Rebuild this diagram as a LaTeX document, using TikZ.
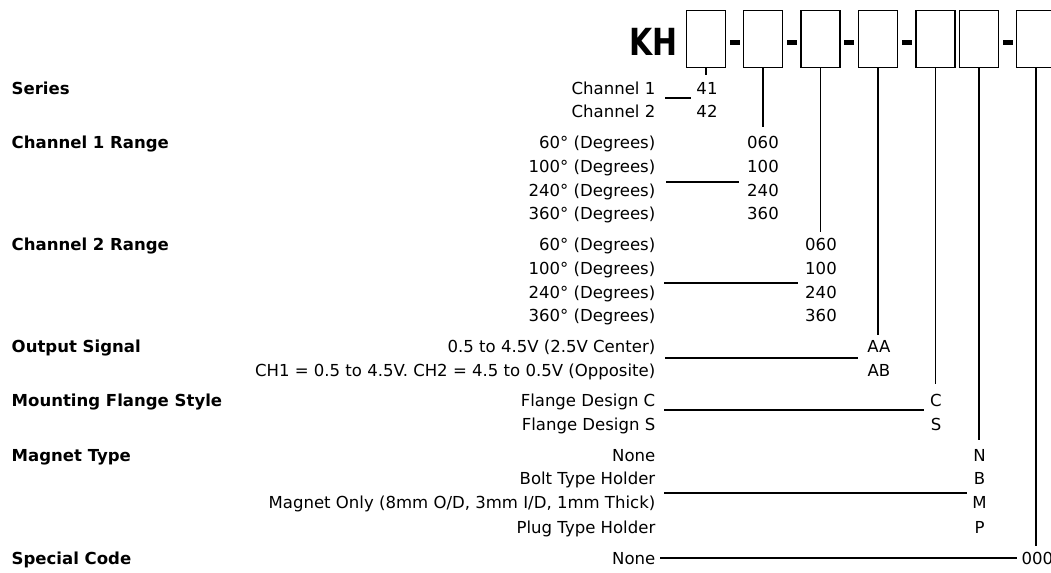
\documentclass[tikz,border=0pt]{standalone}
\usepackage{fontspec}
\setmainfont{DejaVu Sans}
\begin{document}
\begin{tikzpicture}[x=0.75pt, y=-0.75pt,
  every node/.style={font=\fontsize{12.4}{14}\selectfont},
  slot/.style={draw, line width=1.4pt, minimum width=29.25pt, minimum height=42.75pt, inner sep=0pt},
  head/.style={anchor=base west, font=\fontsize{12.4}{14}\selectfont\bfseries},
  desc/.style={anchor=base east},
  code/.style={anchor=base},
  lead/.style={line width=1pt}]
  \useasboundingbox (0,0) rectangle (1051,572);
  \clip (0,0) rectangle (1051,572);
  % part number boxes
  \node[anchor=east, inner sep=0pt, font=\fontsize{28}{28}\selectfont\bfseries] (kh) at (678,42) {\scalebox{0.8}[1]{KH}};
  \node[slot] (b1) at (706,39) {};
  \node[slot] (b2) at (763,39) {};
  \node[slot] (b3) at (820.5,39) {};
  \node[slot] (b4) at (878,39) {};
  \node[slot] (b5) at (935.5,39) {};
  \node[slot] (b6) at (979,39) {};
  \node[slot] (b7) at (1036,39) {};
  \fill (730,40) rectangle (740,45);
  \fill (787,40) rectangle (797,45);
  \fill (844,40) rectangle (854,45);
  \fill (902,40) rectangle (912,45);
  \fill (1003,40) rectangle (1013,45);
  % headings
  \node[head] (hser) at (7,94) {Series};
  \node[head] (hch1) at (7,148) {Channel 1 Range};
  \node[head] (hch2) at (7,250) {Channel 2 Range};
  \node[head] (hout) at (7,352) {Output Signal};
  \node[head] (hfl) at (7,406) {Mounting Flange Style};
  \node[head] (hmg) at (7,461) {Magnet Type};
  \node[head] (hsp) at (7,564) {Special Code};
  % series
  \node[desc] (ser1) at (660,94) {Channel 1};
  \node[desc] (ser2) at (660,117) {Channel 2};
  \node[code] (c41) at (707,94) {41};
  \node[code] (c42) at (707,117) {42};
  \coordinate (b1end) at (706,75);
  \coordinate (serL) at (665,98);
  \coordinate (serR) at (691,98);
  \draw[lead] (b1.south) -- (b1end);
  \draw[lead] (serL) -- (serR);
  % channel 1 range
  \node[desc] (ra1) at (660,148) {60° (Degrees)};
  \node[desc] (ra2) at (660,172) {100° (Degrees)};
  \node[desc] (ra3) at (660,196) {240° (Degrees)};
  \node[desc] (ra4) at (660,219) {360° (Degrees)};
  \node[code] (ca1) at (763,148) {060};
  \node[code] (ca2) at (763,172) {100};
  \node[code] (ca3) at (763,196) {240};
  \node[code] (ca4) at (763,219) {360};
  \coordinate (b2end) at (763,127);
  \coordinate (raL) at (666,182);
  \coordinate (raR) at (739,182);
  \draw[lead] (b2.south) -- (b2end);
  \draw[lead] (raL) -- (raR);
  % channel 2 range
  \node[desc] (rb1) at (660,250) {60° (Degrees)};
  \node[desc] (rb2) at (660,274) {100° (Degrees)};
  \node[desc] (rb3) at (660,298) {240° (Degrees)};
  \node[desc] (rb4) at (660,321) {360° (Degrees)};
  \node[code] (cb1) at (821,250) {060};
  \node[code] (cb2) at (821,274) {100};
  \node[code] (cb3) at (821,298) {240};
  \node[code] (cb4) at (821,321) {360};
  \coordinate (b3end) at (820.5,232);
  \coordinate (rbL) at (664,283);
  \coordinate (rbR) at (798,283);
  \draw[lead] (b3.south) -- (b3end);
  \draw[lead] (rbL) -- (rbR);
  % output signal
  \node[desc] (out1) at (660,352) {0.5 to 4.5V (2.5V Center)};
  \node[desc] (out2) at (660,376) {CH1 = 0.5 to 4.5V. CH2 = 4.5 to 0.5V (Opposite)};
  \node[code] (caa) at (879,352) {AA};
  \node[code] (cab) at (879,376) {AB};
  \coordinate (b4end) at (878,335);
  \coordinate (outL) at (665,358);
  \coordinate (outR) at (858,358);
  \draw[lead] (b4.south) -- (b4end);
  \draw[lead] (outL) -- (outR);
  % flange
  \node[desc] (fl1) at (660,406) {Flange Design C};
  \node[desc] (fl2) at (660,430) {Flange Design S};
  \node[code] (cc) at (936,406) {C};
  \node[code] (cs) at (936,430) {S};
  \coordinate (b5end) at (935.5,384);
  \coordinate (flL) at (664,410);
  \coordinate (flR) at (924,410);
  \draw[lead] (b5.south) -- (b5end);
  \draw[lead] (flL) -- (flR);
  % magnet
  \node[desc] (mg1) at (660,461) {None};
  \node[desc] (mg2) at (660,484) {Bolt Type Holder};
  \node[desc] (mg3) at (660,508) {Magnet Only (8mm O/D, 3mm I/D, 1mm Thick)};
  \node[desc] (mg4) at (660,533) {Plug Type Holder};
  \node[code] (cn) at (979.5,461) {N};
  \node[code] (cbb) at (979.5,484) {B};
  \node[code] (cm) at (979.5,508) {M};
  \node[code] (cp) at (979.5,533) {P};
  \coordinate (b6end) at (979,440);
  \coordinate (mgL) at (664,493);
  \coordinate (mgR) at (967,493);
  \draw[lead] (b6.south) -- (b6end);
  \draw[lead] (mgL) -- (mgR);
  % special code
  \node[desc] (sp1) at (660,564) {None};
  \node[anchor=base west] (c000) at (1017,564) {000};
  \coordinate (b7end) at (1036,546);
  \draw[lead] (b7.south) -- (b7end);
  \draw[lead] (sp1.east) -- (c000.west |- sp1.east);
\end{tikzpicture}
\end{document}
